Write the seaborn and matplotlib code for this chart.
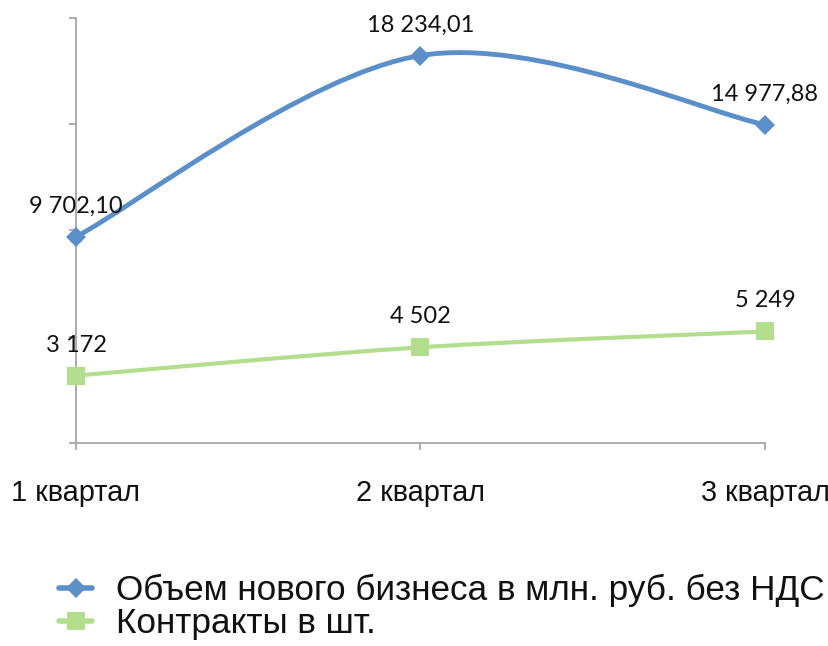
import numpy as np
import matplotlib
matplotlib.use("Agg")
import matplotlib.pyplot as plt
import seaborn as sns
from matplotlib.path import Path
from matplotlib.patches import PathPatch
from matplotlib.lines import Line2D

quarters = ["1 квартал", "2 квартал", "3 квартал"]
business_volume = [9702.10, 18234.01, 14977.88]
contracts = [3172, 4502, 5249]
business_labels = ["9 702,10", "18 234,01", "14 977,88"]
contract_labels = ["3 172", "4 502", "5 249"]
series_names = ["Объем нового бизнеса в млн. руб. без НДС", "Контракты в шт."]

BLUE = "#5b8fc9"
GREEN = "#b3de8e"
AXIS = "#a6a6a6"


def smooth_path(xs, ys):
    # Excel-style smoothed line: cubic bezier through every point
    pts = np.column_stack([xs, ys]).astype(float)
    n = len(pts)
    verts = [pts[0]]
    codes = [Path.MOVETO]
    for i in range(n - 1):
        p0 = pts[max(i - 1, 0)]
        p1 = pts[i]
        p2 = pts[i + 1]
        p3 = pts[min(i + 2, n - 1)]
        verts += [p1 + (p2 - p0) / 6, p2 - (p3 - p1) / 6, p2]
        codes += [Path.CURVE4] * 3
    return Path(verts, codes)


sns.set_theme(style="white")
plt.rcParams["font.family"] = ["Liberation Sans", "DejaVu Sans"]

fig = plt.figure(figsize=(8.29, 6.46), dpi=100)
ax = fig.add_axes([76 / 829, (646 - 443) / 646, (765 - 76) / 829, (443 - 18) / 646])

x = np.arange(len(quarters))

for vals, color, marker, ms, lw, labels in [
    (business_volume, BLUE, "D", 9.8, 3.5, business_labels),
    (contracts, GREEN, "s", 12.5, 3.0, contract_labels),
]:
    ax.add_patch(PathPatch(smooth_path(x, vals), facecolor="none", edgecolor=color,
                           lw=lw, capstyle="round", joinstyle="round", zorder=3,
                           clip_on=False))
    sns.lineplot(x=x, y=vals, ax=ax, color=color, marker=marker, markersize=ms,
                 markeredgewidth=0, linestyle="none", zorder=4, clip_on=False)
    for xi, yi, lab in zip(x, vals, labels):
        ax.annotate(lab, (xi, yi), xytext=(0, 22), textcoords="offset points",
                    ha="center", va="center", fontsize=17, family=["Lato", "DejaVu Sans"],
                    color="#111111", zorder=5)

ax.set_xlim(0, 2)
ax.set_ylim(0, 20000)
ax.set_xticks(x)
ax.set_xticklabels(quarters)
ax.set_yticks([0, 5000, 10000, 15000, 20000])
ax.set_yticklabels([])
ax.set_xlabel("")
ax.set_ylabel("")

for side in ["top", "right"]:
    ax.spines[side].set_visible(False)
for side in ["left", "bottom"]:
    ax.spines[side].set_color(AXIS)
    ax.spines[side].set_linewidth(1.3)

ax.tick_params(axis="y", which="both", left=True, length=5, width=1.3, color=AXIS, direction="out")
ax.tick_params(axis="x", which="both", bottom=True, length=5, width=1.3, color=AXIS,
               direction="out", pad=21, labelsize=20.8, labelcolor="#111111")
ax.grid(False)

handles = [
    Line2D([], [], color=BLUE, lw=4.0, marker="D", markersize=9.8, markeredgewidth=0),
    Line2D([], [], color=GREEN, lw=4.0, marker="s", markersize=12.5, markeredgewidth=0),
]
fig.legend(handles, series_names, loc="center left", bbox_to_anchor=(59 / 829, (646 - 607) / 646),
           frameon=False, fontsize=25.3, handlelength=0.95, handletextpad=0.68,
           labelspacing=0.0, borderpad=0, borderaxespad=0, labelcolor="#111111")

fig.savefig("out.png", dpi=100)
